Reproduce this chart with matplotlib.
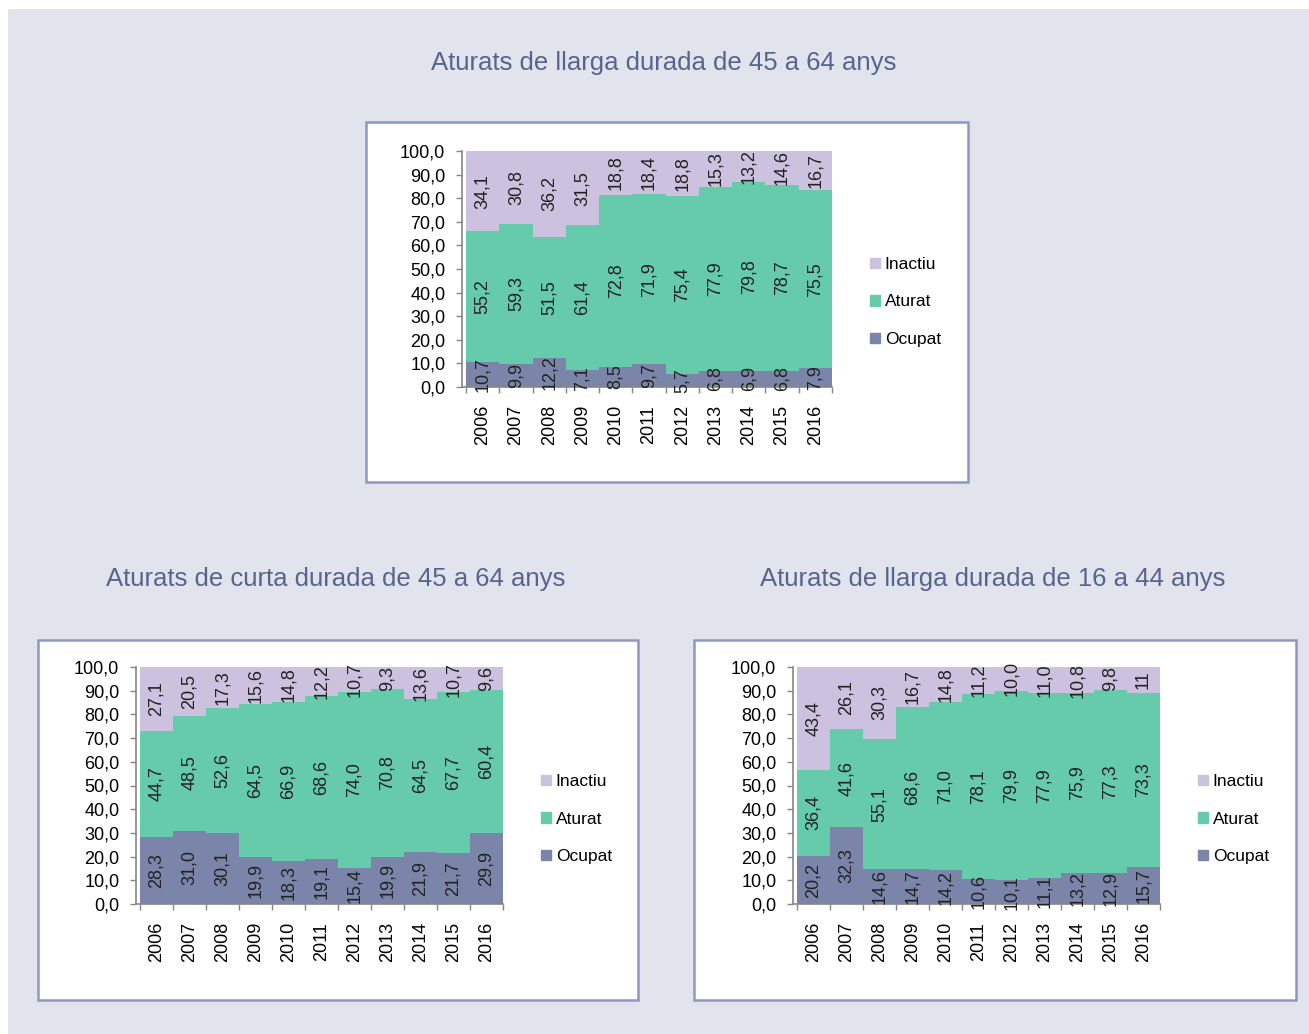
import matplotlib.pyplot as plt
from matplotlib.patches import Rectangle, Patch
import numpy as np

plt.rcParams['font.family'] = ['Liberation Sans Narrow', 'Liberation Sans', 'DejaVu Sans']

W, H = 1309, 1034

# Dades
anys = ['2006', '2007', '2008', '2009', '2010', '2011', '2012', '2013', '2014', '2015', '2016']

llarga_45_ocupat = [10.7, 9.9, 12.2, 7.1, 8.5, 9.7, 5.7, 6.8, 6.9, 6.8, 7.9]
llarga_45_aturat = [55.2, 59.3, 51.5, 61.4, 72.8, 71.9, 75.4, 77.9, 79.8, 78.7, 75.5]
llarga_45_inactiu = [34.1, 30.8, 36.2, 31.5, 18.8, 18.4, 18.8, 15.3, 13.2, 14.6, 16.7]

curta_45_ocupat = [28.3, 31.0, 30.1, 19.9, 18.3, 19.1, 15.4, 19.9, 21.9, 21.7, 29.9]
curta_45_aturat = [44.7, 48.5, 52.6, 64.5, 66.9, 68.6, 74.0, 70.8, 64.5, 67.7, 60.4]
curta_45_inactiu = [27.1, 20.5, 17.3, 15.6, 14.8, 12.2, 10.7, 9.3, 13.6, 10.7, 9.6]

llarga_16_ocupat = [20.2, 32.3, 14.6, 14.7, 14.2, 10.6, 10.1, 11.1, 13.2, 12.9, 15.7]
llarga_16_aturat = [36.4, 41.6, 55.1, 68.6, 71.0, 78.1, 79.9, 77.9, 75.9, 77.3, 73.3]
llarga_16_inactiu = [43.4, 26.1, 30.3, 16.7, 14.8, 11.2, 10.0, 11.0, 10.8, 9.8, 11]

COL_OCUPAT = '#7a85a9'
COL_ATURAT = '#66cbaa'
COL_INACTIU = '#ccc1de'
COL_TITOL = '#58648c'
COL_VORA = '#8e97bd'


def px_box(x0, y0, x1, y1):
    return [x0 / W, 1 - y1 / H, (x1 - x0) / W, (y1 - y0) / H]


def fmt(v):
    if isinstance(v, int):
        return str(v)
    return f'{v:.1f}'.replace('.', ',')


fig = plt.figure(figsize=(W / 100, H / 100), dpi=100)
fig.patch.set_facecolor('white')

# fons i requadres
fig.patches.append(Rectangle((8 / W, 0), 1, 1 - 9 / H, transform=fig.transFigure,
                             facecolor='#e1e4ed', edgecolor='none', zorder=0))
for (x0, y0, x1, y1) in [(366, 122, 968, 482), (38, 640, 638, 1000), (694, 640, 1296, 1000)]:
    fig.patches.append(Rectangle((x0 / W, 1 - y1 / H), (x1 - x0) / W, (y1 - y0) / H,
                                 transform=fig.transFigure, facecolor='white',
                                 edgecolor=COL_VORA, linewidth=1.8, zorder=1))


def grafic(rect, legend_xy, ocupat, aturat, inactiu):
    ax = fig.add_axes(px_box(*rect))
    ax.set_zorder(2)
    x = np.arange(len(anys))
    ocupat = np.array(ocupat, dtype=float)
    aturat_v = np.array(aturat, dtype=float)
    inactiu_v = np.array(inactiu, dtype=float)
    ax.bar(x, ocupat, width=1.0, color=COL_OCUPAT, linewidth=0)
    ax.bar(x, aturat_v, width=1.0, bottom=ocupat, color=COL_ATURAT, linewidth=0)
    ax.bar(x, inactiu_v, width=1.0, bottom=ocupat + aturat_v, color=COL_INACTIU, linewidth=0)

    for i in range(len(anys)):
        ax.text(x[i], ocupat[i] / 2, fmt(ocupat[i]), rotation=90, ha='center', va='center',
                fontsize=13, color='#222222')
        ax.text(x[i], ocupat[i] + aturat_v[i] / 2, fmt(aturat[i]), rotation=90, ha='center',
                va='center', fontsize=13, color='#222222')
        ax.text(x[i], ocupat[i] + aturat_v[i] + inactiu_v[i] / 2, fmt(inactiu[i]), rotation=90,
                ha='center', va='center', fontsize=13, color='#222222')

    ax.set_xlim(-0.62, len(anys) - 0.5)
    ax.set_ylim(0, 100)
    ax.set_yticks(np.arange(0, 101, 10))
    ax.set_yticklabels([f'{v:.1f}'.replace('.', ',') for v in np.arange(0, 101, 10)])
    ax.set_xticks(x)
    ax.set_xticklabels(anys, rotation=90, va='top')
    ax.set_xticks(np.arange(-0.5, len(anys), 1), minor=True)
    ax.tick_params(axis='x', which='major', length=0, pad=13, labelsize=13)
    ax.tick_params(axis='x', which='minor', length=4, color='#868686', width=1)
    ax.tick_params(axis='y', length=4, color='#868686', width=1, pad=8, labelsize=13)
    for s in ['top', 'right']:
        ax.spines[s].set_visible(False)
    for s in ['left', 'bottom']:
        ax.spines[s].set_color('#868686')
        ax.spines[s].set_linewidth(1.2)
    ax.set_facecolor('none')

    handles = [Patch(color=COL_INACTIU, label='Inactiu'),
               Patch(color=COL_ATURAT, label='Aturat'),
               Patch(color=COL_OCUPAT, label='Ocupat')]
    fig.legend(handles=handles, loc='center left',
               bbox_to_anchor=(legend_xy[0] / W, 1 - legend_xy[1] / H),
               frameon=False, fontsize=12.5, handlelength=0.55, handleheight=0.55,
               handletextpad=0.3, labelspacing=1.3, borderpad=0, borderaxespad=0)
    return ax


grafic((462, 151, 832, 387), (870, 302), llarga_45_ocupat, llarga_45_aturat, llarga_45_inactiu)
grafic((136, 667, 503, 904), (541, 819), curta_45_ocupat, curta_45_aturat, curta_45_inactiu)
grafic((793, 667, 1160, 904), (1198, 819), llarga_16_ocupat, llarga_16_aturat, llarga_16_inactiu)

fig.text(664 / W, 1 - 63 / H, 'Aturats de llarga durada de 45 a 64 anys', ha='center', va='center',
         fontsize=18.5, color=COL_TITOL)
fig.text(336 / W, 1 - 579 / H, 'Aturats de curta durada de 45 a 64 anys', ha='center', va='center',
         fontsize=18.5, color=COL_TITOL)
fig.text(993 / W, 1 - 579 / H, 'Aturats de llarga durada de 16 a 44 anys', ha='center', va='center',
         fontsize=18.5, color=COL_TITOL)

fig.savefig('out.png', dpi=100)
